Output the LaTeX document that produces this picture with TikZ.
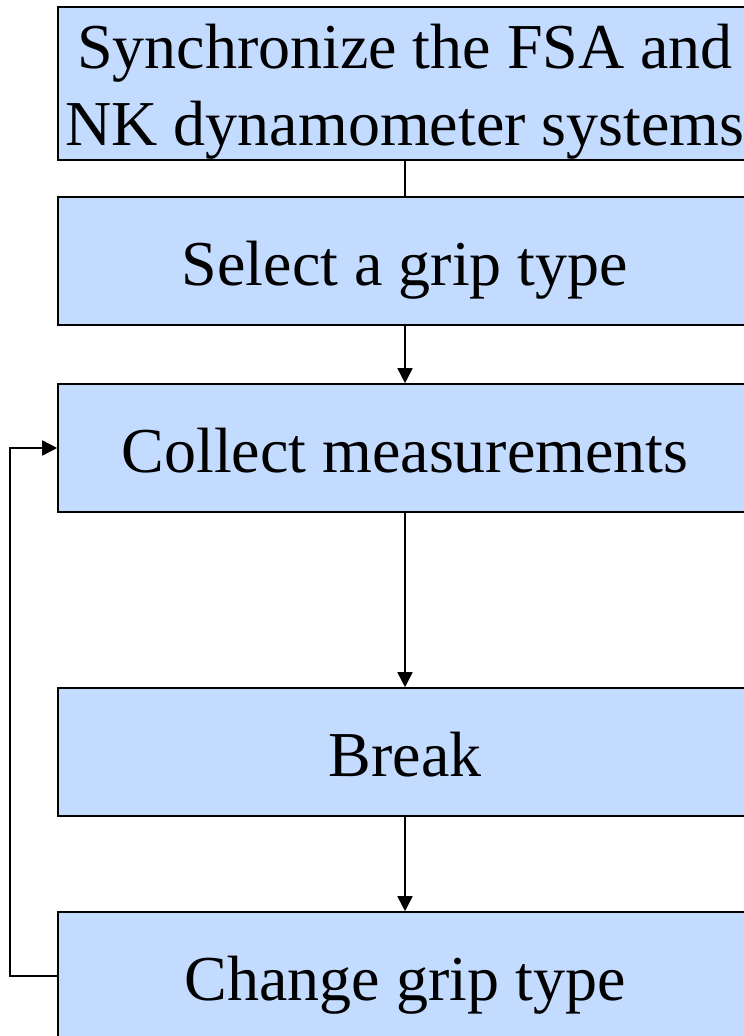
\documentclass[tikz,border=0pt]{standalone}
\usepackage{fontspec}
\setmainfont{Liberation Serif}
\newfontfamily\boxfont{Liberation Serif}
\usetikzlibrary{arrows.meta}
\definecolor{boxblue}{HTML}{C3DBFF}
\tikzset{
  stepbox/.style={draw=black, line width=1.6pt, fill=boxblue, minimum width=694pt, inner sep=0pt, align=center, font=\boxfont\fontsize{64}{77}\selectfont},
  onebox/.style={stepbox, minimum height=128pt, text height=48pt, text depth=0pt},
  flow/.style={line width=1.6pt, -{Triangle[width=15pt,length=15pt]}},
  plain/.style={line width=1.6pt}
}
\begin{document}
\begin{tikzpicture}[x=1pt,y=-1pt]
\useasboundingbox (0,0) rectangle (744,1036);
\clip (0,0) rectangle (744,1036);
\node[stepbox, minimum height=153pt, text height=123pt, text depth=0pt] (sync) at (405,83.5) {Synchronize the FSA and\\NK dynamometer systems};
\node[onebox] (select) at (405,261) {Select a grip type};
\node[onebox] (collect) at (405,448) {Collect measurements};
\node[onebox] (break) at (405,752) {Break};
\node[onebox] (change) at (405,976) {Change grip type};
\coordinate (lb) at (10,976);
\coordinate (lt) at (10,448);
\draw[plain] (sync) -- (select);
\draw[flow] (select) -- (collect);
\draw[flow] (collect) -- (break);
\draw[flow] (break) -- (change);
\draw[flow] (change.west) -- (lb) -- (lt) -- (collect.west);
\end{tikzpicture}
\end{document}
